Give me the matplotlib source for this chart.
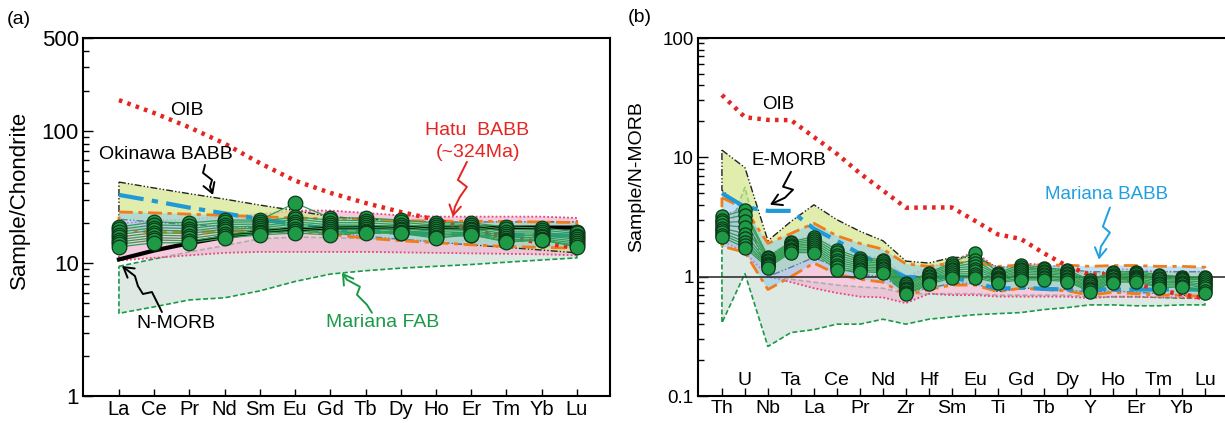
import numpy as np
import matplotlib
matplotlib.use('Agg')
import matplotlib.pyplot as plt
from matplotlib.path import Path
from matplotlib.patches import FancyArrowPatch
from matplotlib.transforms import IdentityTransform, blended_transform_factory

plt.rcParams['font.family'] = ['Liberation Sans', 'DejaVu Sans']

# ---------------- (a) chondrite-normalised REE ----------------
el_a = ['La', 'Ce', 'Pr', 'Nd', 'Sm', 'Eu', 'Gd', 'Tb', 'Dy', 'Ho', 'Er', 'Tm', 'Yb', 'Lu']

smp_a = [
    [18.8, 20.5, 20.2, 21.2, 21.2, 28.5, 22.0, 22.0, 21.2, 20.2, 20.2, 18.8, 18.5, 17.3],
    [18.0, 19.5, 19.2, 20.4, 20.6, 22.4, 21.2, 21.0, 20.4, 19.4, 19.5, 18.0, 17.8, 16.8],
    [17.2, 18.6, 18.3, 19.6, 19.8, 21.5, 20.3, 20.2, 19.6, 18.7, 18.8, 17.3, 17.2, 16.2],
    [16.5, 17.8, 17.5, 18.8, 19.1, 20.6, 19.5, 19.4, 18.9, 18.0, 18.2, 16.7, 16.6, 15.7],
    [15.8, 17.0, 16.8, 18.1, 18.5, 19.8, 18.8, 18.7, 18.3, 17.4, 17.7, 16.1, 16.2, 15.2],
    [15.1, 16.3, 16.1, 17.4, 17.9, 19.0, 18.1, 18.1, 17.8, 16.8, 17.2, 15.6, 15.7, 14.7],
    [14.5, 15.6, 15.4, 16.7, 17.3, 18.2, 17.4, 17.6, 17.3, 16.3, 16.8, 15.1, 15.3, 14.2],
    [13.9, 15.0, 14.8, 16.1, 16.8, 17.5, 16.9, 17.2, 17.0, 15.8, 16.5, 14.7, 15.0, 13.7],
    [13.3, 14.3, 14.3, 15.5, 16.4, 16.9, 16.4, 17.0, 16.8, 15.5, 16.4, 14.5, 15.0, 13.3],
]
oib_a = [170, 136, 106, 80, 57, 42, 34, 28.5, 24.4, 21.3, 18.0, 15.8, 14.3, 13.0]
nmorb_a = [10.7, 12.5, 14.2, 15.8, 17.3, 18.0, 18.5, 18.6, 18.6, 18.6, 18.6, 18.6, 18.6, 18.6]
emorb_a = [32.8, 29.5, 26.3, 23.8, 21.6, 19.6, 18.2, 17.4, 17.0, 16.7, 16.5, 16.4, 16.3, 16.2]
okinawa_hi_a = [41, 37, 33.5, 30.5, 27.5, 25, 22.5, 21.5, 21, 20.5, 20.5, 20.5, 20.5, 20.5]
okinawa_lo_a = [21.5, 20.5, 19.5, 19, 18.5, 18, 17, 16, 15.2, 14.5, 13.8, 13.2, 12.6, 12.0]
mariana_hi_a = [24.4, 24.0, 23.5, 23.0, 22.5, 22.0, 21.6, 21.3, 21.0, 20.8, 20.8, 20.7, 20.5, 20.3]
mariana_lo_a = [17.5, 17.3, 17.2, 17.4, 17.8, 17.5, 16.5, 15.5, 14.8, 14.3, 13.8, 13.4, 13.2, 13.0]
hatu_hi_a = [20, 21, 21.5, 22.5, 23.5, 25, 25, 24, 23, 22.5, 22.5, 22.5, 22.5, 22]
hatu_lo_a = [10.5, 11.0, 11.5, 12.0, 12.2, 12.2, 12.2, 12.2, 12.1, 12.0, 11.9, 11.8, 11.7, 11.5]
fab_hi_a = [9.5, 10.8, 12.2, 13.6, 15.3, 15.8, 15.6, 15.4, 15.2, 15.0, 14.8, 14.6, 14.4, 14.2]
fab_lo_a = [4.2, 4.7, 5.3, 5.5, 6.2, 7.3, 8.3, 8.8, 9.2, 9.5, 9.8, 10.2, 10.6, 11.0]

# ---------------- (b) N-MORB-normalised multi-element ----------------
el_b = ['Th', 'U', 'Nb', 'Ta', 'La', 'Ce', 'Pr', 'Nd', 'Zr', 'Hf', 'Sm',
        'Eu', 'Ti', 'Gd', 'Tb', 'Dy', 'Y', 'Ho', 'Er', 'Tm', 'Yb', 'Lu']

# one row per element, one column per sample
smp_b_by_el = [
    [3.2, 3.0, 2.85, 2.7, 2.55, 2.45, 2.35, 2.25, 2.15],
    [3.6, 3.3, 2.9, 2.6, 2.3, 2.1, 1.95, 1.85, 1.75],
    [1.47, 1.43, 1.39, 1.35, 1.31, 1.28, 1.25, 1.22, 1.19],
    [1.96, 1.91, 1.86, 1.81, 1.77, 1.72, 1.67, 1.63, 1.59],
    [2.16, 2.07, 1.99, 1.91, 1.84, 1.77, 1.71, 1.65, 1.59],
    [1.68, 1.60, 1.52, 1.45, 1.38, 1.32, 1.26, 1.20, 1.14],
    [1.44, 1.39, 1.34, 1.29, 1.25, 1.21, 1.17, 1.13, 1.10],
    [1.39, 1.34, 1.30, 1.26, 1.22, 1.18, 1.15, 1.11, 1.08],
    [0.89, 0.86, 0.84, 0.81, 0.79, 0.77, 0.75, 0.73, 0.71],
    [1.08, 1.05, 1.02, 0.99, 0.96, 0.93, 0.91, 0.88, 0.86],
    [1.31, 1.26, 1.21, 1.17, 1.13, 1.09, 1.05, 1.02, 0.98],
    [1.59, 1.38, 1.30, 1.23, 1.17, 1.11, 1.06, 1.02, 0.98],
    [1.08, 1.05, 1.03, 1.00, 0.98, 0.96, 0.93, 0.91, 0.89],
    [1.26, 1.21, 1.17, 1.13, 1.09, 1.05, 1.01, 0.97, 0.94],
    [1.19, 1.16, 1.12, 1.09, 1.06, 1.03, 1.00, 0.97, 0.94],
    [1.14, 1.11, 1.08, 1.05, 1.02, 0.99, 0.96, 0.93, 0.91],
    [0.94, 0.91, 0.88, 0.86, 0.83, 0.81, 0.79, 0.77, 0.75],
    [1.10, 1.07, 1.04, 1.01, 0.99, 0.96, 0.94, 0.91, 0.89],
    [1.10, 1.07, 1.05, 1.02, 1.00, 0.97, 0.95, 0.93, 0.91],
    [1.04, 1.01, 0.98, 0.95, 0.92, 0.89, 0.86, 0.83, 0.81],
    [1.00, 0.97, 0.95, 0.93, 0.91, 0.89, 0.87, 0.84, 0.82],
    [1.00, 0.97, 0.94, 0.90, 0.86, 0.83, 0.80, 0.76, 0.73],
]
oib_b = [33.3, 21.7, 20.6, 20.5, 14.8, 10.7, 7.35, 5.27, 3.78, 3.80, 3.80,
         2.94, 2.26, 2.07, 1.57, 1.23, 1.04, 1.05, 0.88, 0.77, 0.71, 0.66]
emorb_b = [5.0, 3.83, 3.56, 3.56, 2.52, 2.0, 1.55, 1.23, 0.99, 0.99, 0.99,
           0.89, 0.79, 0.81, 0.79, 0.78, 0.79, 0.78, 0.78, 0.78, 0.78, 0.78]
okinawa_hi_b = [11.5, 8.2, 2.0, 2.9, 4.0, 3.0, 2.4, 2.0, 1.35, 1.3, 1.45,
                1.45, 1.2, 1.2, 1.15, 1.15, 1.1, 1.1, 1.1, 1.1, 1.1, 1.1]
okinawa_lo_b = [5.3, 3.6, 1.0, 1.2, 1.45, 1.2, 1.05, 1.0, 0.75, 0.8, 0.88,
                0.88, 0.75, 0.8, 0.8, 0.78, 0.74, 0.76, 0.74, 0.72, 0.7, 0.68]
mariana_hi_b = [4.6, 3.7, 1.9, 2.3, 2.8, 2.2, 1.9, 1.7, 1.28, 1.22, 1.3,
                1.32, 1.22, 1.25, 1.25, 1.25, 1.22, 1.24, 1.24, 1.22, 1.22, 1.2]
mariana_lo_b = [1.8, 1.6, 0.78, 1.0, 1.3, 1.05, 0.95, 0.9, 0.7, 0.78, 0.85,
                0.85, 0.75, 0.8, 0.78, 0.76, 0.7, 0.74, 0.72, 0.7, 0.7, 0.68]
hatu_hi_b = [3.3, 3.7, 1.5, 2.0, 2.2, 1.75, 1.5, 1.45, 1.0, 1.2, 1.35,
             1.62, 1.15, 1.3, 1.25, 1.2, 1.0, 1.15, 1.15, 1.1, 1.1, 1.1]
hatu_lo_b = [2.0, 1.6, 1.0, 0.9, 0.8, 0.73, 0.68, 0.67, 0.6, 0.72, 0.7,
             0.7, 0.68, 0.68, 0.68, 0.68, 0.66, 0.68, 0.68, 0.67, 0.67, 0.65]
fab_hi_b = [1.75, 5.6, 1.0, 0.95, 0.9, 0.85, 0.82, 0.8, 0.72, 0.72, 0.72,
            0.72, 0.7, 0.7, 0.7, 0.7, 0.68, 0.68, 0.68, 0.67, 0.66, 0.66]
fab_lo_b = [0.41, 1.06, 0.26, 0.34, 0.36, 0.40, 0.40, 0.44, 0.40, 0.44, 0.46,
            0.48, 0.49, 0.50, 0.53, 0.55, 0.58, 0.58, 0.57, 0.57, 0.58, 0.58]

RED = '#e52521'
BLUE = '#1f9ad6'
ORANGE = '#f07d1a'
PINK = '#e8457e'
GREEN = '#1a9a48'


def field(ax, x, lo, hi, fc, ec, ls, lw, alpha, z):
    ax.fill_between(x, lo, hi, facecolor=fc, alpha=alpha, lw=0, zorder=z)
    px = np.concatenate([x, x[::-1], x[:1]])
    py = np.concatenate([hi, lo[::-1], hi[:1]])
    ax.plot(px, py, color=ec, ls=ls, lw=lw, zorder=z + 0.5)


def squiggle(ax, tip, offsets, color):
    # offsets are pixel steps (right, up) from the arrow tip
    x0, y0 = ax.transData.transform(tip)
    k = ax.figure.dpi / 100.0
    verts = [(x0 + dx * k, y0 + dy * k) for dx, dy in offsets] + [(x0, y0)]
    arr = FancyArrowPatch(path=Path(verts), arrowstyle='->,head_length=0.5,head_width=0.3',
                          mutation_scale=14, color=color, lw=1.4,
                          transform=IdentityTransform(), zorder=20, clip_on=False,
                          joinstyle='round', capstyle='round')
    ax.add_artist(arr)


def samples(ax, x, rows, ms):
    for row in rows:
        ax.plot(x, row, '-', color='#2f9e50', lw=0.9, zorder=8)
    for row in rows:
        ax.plot(x, row, 'o', ms=ms, mfc='#1e9a46', mec='#0c3818', mew=0.9, zorder=9)


fig = plt.figure(figsize=(12.25, 4.23), dpi=100)
ax1 = fig.add_axes([83 / 1225, 27 / 423, 527 / 1225, 358 / 423])
ax2 = fig.add_axes([698 / 1225, 27 / 423, 532 / 1225, 358 / 423])

# ---------- panel (a) ----------
xa = np.arange(len(el_a))
ax1.set_yscale('log')
ax1.set_xlim(-1.02, 13.94)
ax1.set_ylim(1, 500)

field(ax1, xa, np.array(fab_lo_a), np.array(fab_hi_a), '#dde9e2', GREEN, (0, (3, 1.5)), 1.2, 1.0, 1)
field(ax1, xa, np.array(hatu_lo_a), np.array(hatu_hi_a), '#f0b6d2', PINK, (0, (1, 1.2)), 1.3, 0.7, 2)
field(ax1, xa, np.array(okinawa_lo_a), np.array(okinawa_hi_a), '#d3e68a', '#222222',
      (0, (5, 1.5, 1, 1.5, 1, 1.5)), 1.0, 0.7, 3)
field(ax1, xa, np.array(mariana_lo_a), np.array(mariana_hi_a), '#8ecbef', ORANGE,
      (0, (5, 2, 1.5, 2)), 2.0, 0.55, 4)
ax1.plot(xa, emorb_a, color=BLUE, lw=3, ls=(0, (6, 2, 1.5, 2)), zorder=6)
ax1.plot(xa, nmorb_a, color='black', lw=3, zorder=6)
ax1.plot(xa, oib_a, color=RED, lw=3.2, ls=(0, (0.8, 1.2)), zorder=7)
samples(ax1, xa, smp_a, 10.5)

ax1.set_xticks(xa)
ax1.set_xticklabels(el_a)
ax1.set_yticks([1, 10, 100, 500])
ax1.set_yticklabels(['1', '10', '100', '500'])
ax1.set_yticks([2, 3, 4, 5, 6, 7, 8, 9, 20, 30, 40, 50, 60, 70, 80, 90, 200, 300, 400], minor=True)
ax1.yaxis.set_minor_formatter(plt.NullFormatter())
ax1.tick_params(axis='x', direction='in', length=5, width=1, labelsize=14.5, pad=3)
ax1.tick_params(axis='y', which='major', direction='in', length=7, width=1, labelsize=16, pad=3)
ax1.tick_params(axis='y', which='minor', direction='in', length=4, width=1)
for s in ax1.spines.values():
    s.set_linewidth(1.5)
ax1.set_ylabel('Sample/Chondrite', fontsize=16)
ax1.yaxis.set_label_coords(-0.1006, 0.547)

ax1.text(1.93, 143, 'OIB', fontsize=14, ha='center', va='center', zorder=21)
ax1.text(1.33, 65.7, 'Okinawa BABB', fontsize=14, ha='center', va='center', zorder=21)
ax1.text(10.16, 101, 'Hatu  BABB', fontsize=14, color=RED, ha='center', va='center', zorder=21)
ax1.text(10.18, 69, '(~324Ma)', fontsize=14, color=RED, ha='center', va='center', zorder=21)
ax1.text(1.62, 3.55, 'N-MORB', fontsize=14, ha='center', va='center', zorder=21)
ax1.text(7.49, 3.61, 'Mariana FAB', fontsize=14, color=GREEN, ha='center', va='center', zorder=21)

squiggle(ax1, (2.67, 32.8), [(-8, 30), (-10, 22), (-1, 15), (-3, 8)], 'black')
squiggle(ax1, (9.48, 22.4), [(14, 55), (5, 37), (14, 30), (7, 20), (2, 10)], RED)
squiggle(ax1, (0.085, 9.55), [(40, -46), (30, -26), (21, -28), (16, -20), (13, -10)], 'black')
squiggle(ax1, (6.33, 8.5), [(30, -40), (25, -32), (15, -22), (18, -14), (5, -7)], GREEN)

# ---------- panel (b) ----------
xb = np.arange(len(el_b))
smp_b = np.array(smp_b_by_el).T
ax2.set_yscale('log')
ax2.set_xlim(-1.04, 22.09)
ax2.set_ylim(0.1, 100)

field(ax2, xb, np.array(fab_lo_b), np.array(fab_hi_b), '#dde9e2', GREEN, (0, (3, 1.5)), 1.2, 1.0, 1)
field(ax2, xb, np.array(hatu_lo_b), np.array(hatu_hi_b), '#f0b6d2', PINK, (0, (1, 1.2)), 1.3, 0.7, 2)
field(ax2, xb, np.array(okinawa_lo_b), np.array(okinawa_hi_b), '#d3e68a', '#222222',
      (0, (5, 1.5, 1, 1.5, 1, 1.5)), 1.0, 0.7, 3)
field(ax2, xb, np.array(mariana_lo_b), np.array(mariana_hi_b), '#8ecbef', ORANGE,
      (0, (5, 2, 1.5, 2)), 2.0, 0.55, 4)
ax2.axhline(1, color='#333333', lw=1.2, zorder=5)
ax2.plot(xb, emorb_b, color=BLUE, lw=3, ls=(0, (6, 2, 1.5, 2)), zorder=6)
ax2.plot(xb, oib_b, color=RED, lw=3.2, ls=(0, (0.8, 1.2)), zorder=7)
samples(ax2, xb, smp_b, 9.5)

ax2.set_xticks(xb)
ax2.set_xticklabels([e if i % 2 == 0 else '' for i, e in enumerate(el_b)])
trans = blended_transform_factory(ax2.transData, ax2.transAxes)
for i, e in enumerate(el_b):
    if i % 2 == 1:
        ax2.text(i, 0.042, e, transform=trans, fontsize=14, ha='center', va='center', zorder=21)
ax2.set_yticks([0.1, 1, 10, 100])
ax2.set_yticklabels(['0.1', '1', '10', '100'])
ax2.set_yticks([0.2, 0.3, 0.4, 0.5, 0.6, 0.7, 0.8, 0.9, 2, 3, 4, 5, 6, 7, 8, 9,
                20, 30, 40, 50, 60, 70, 80, 90], minor=True)
ax2.yaxis.set_minor_formatter(plt.NullFormatter())
ax2.tick_params(axis='x', direction='in', length=6, width=1, labelsize=14, pad=3)
ax2.tick_params(axis='y', which='major', direction='in', length=7, width=1, labelsize=13.5, pad=3)
ax2.tick_params(axis='y', which='minor', direction='in', length=4, width=1)
for s in ax2.spines.values():
    s.set_linewidth(1.5)
ax2.set_ylabel('Sample/N-MORB', fontsize=14)
ax2.yaxis.set_label_coords(-0.0996, 0.612)

ax2.text(2.43, 27.7, 'OIB', fontsize=13.5, ha='center', va='center', zorder=21)
ax2.text(2.91, 9.38, 'E-MORB', fontsize=13.5, ha='center', va='center', zorder=21)
ax2.text(16.74, 4.87, 'Mariana BABB', fontsize=13.5, color='#1ea0e0', ha='center', va='center', zorder=21)
squiggle(ax2, (2.09, 4.01), [(21, 33), (13, 18), (23, 15), (15, 7)], 'black')
squiggle(ax2, (16.39, 1.39), [(11, 52), (4, 33), (11, 27), (2, 13)], '#1ea0e0')

fig.text(19 / 1225, 1 - 20 / 423, '(a)', fontsize=14, ha='center', va='center')
fig.text(640 / 1225, 1 - 18 / 423, '(b)', fontsize=14, ha='center', va='center')

fig.savefig('out.png', dpi=100)
